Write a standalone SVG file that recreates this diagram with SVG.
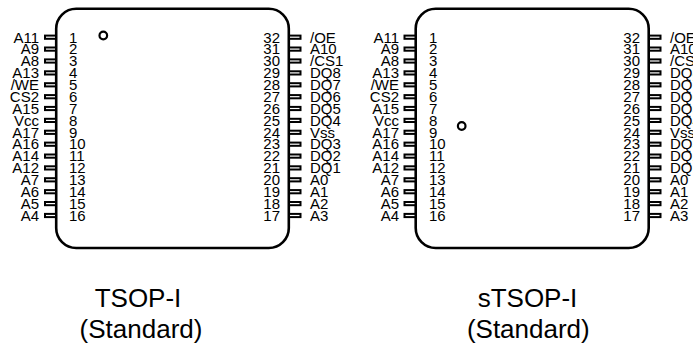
<svg xmlns="http://www.w3.org/2000/svg" width="693" height="344" viewBox="0 0 693 344">
<style>
.body{fill:#fff;stroke:#000;stroke-width:2.6}
.pin{fill:#fff;stroke:#000;stroke-width:2}
.dot{fill:none;stroke:#000;stroke-width:2.2}
text{font-family:"Liberation Sans",Arial,sans-serif;fill:#000}
.lbl{font-size:15px}
.end{text-anchor:end}
.cap{font-size:26px;text-anchor:middle}
</style>
<rect width="693" height="344" fill="#fff"/>
<g id="chip-tsop">
<rect class="body" x="56.2" y="8.7" width="232.6" height="239.3" rx="20" ry="20"/>
<circle class="dot" cx="103.3" cy="35.5" r="3.8"/>
<g id="tsop-left-pins">
<rect class="pin" x="45" y="35.6" width="11" height="3.2"/>
<rect class="pin" x="45" y="47.5" width="11" height="3.2"/>
<rect class="pin" x="45" y="59.4" width="11" height="3.2"/>
<rect class="pin" x="45" y="71.3" width="11" height="3.2"/>
<rect class="pin" x="45" y="83.2" width="11" height="3.2"/>
<rect class="pin" x="45" y="95.1" width="11" height="3.2"/>
<rect class="pin" x="45" y="106.9" width="11" height="3.2"/>
<rect class="pin" x="45" y="118.8" width="11" height="3.2"/>
<rect class="pin" x="45" y="130.7" width="11" height="3.2"/>
<rect class="pin" x="45" y="142.6" width="11" height="3.2"/>
<rect class="pin" x="45" y="154.5" width="11" height="3.2"/>
<rect class="pin" x="45" y="166.3" width="11" height="3.2"/>
<rect class="pin" x="45" y="178.2" width="11" height="3.2"/>
<rect class="pin" x="45" y="190.1" width="11" height="3.2"/>
<rect class="pin" x="45" y="202.0" width="11" height="3.2"/>
<rect class="pin" x="45" y="213.9" width="11" height="3.2"/>
</g>
<g id="tsop-right-pins">
<rect class="pin" x="289" y="35.6" width="11.5" height="3.2"/>
<rect class="pin" x="289" y="47.5" width="11.5" height="3.2"/>
<rect class="pin" x="289" y="59.4" width="11.5" height="3.2"/>
<rect class="pin" x="289" y="71.3" width="11.5" height="3.2"/>
<rect class="pin" x="289" y="83.2" width="11.5" height="3.2"/>
<rect class="pin" x="289" y="95.1" width="11.5" height="3.2"/>
<rect class="pin" x="289" y="106.9" width="11.5" height="3.2"/>
<rect class="pin" x="289" y="118.8" width="11.5" height="3.2"/>
<rect class="pin" x="289" y="130.7" width="11.5" height="3.2"/>
<rect class="pin" x="289" y="142.6" width="11.5" height="3.2"/>
<rect class="pin" x="289" y="154.5" width="11.5" height="3.2"/>
<rect class="pin" x="289" y="166.3" width="11.5" height="3.2"/>
<rect class="pin" x="289" y="178.2" width="11.5" height="3.2"/>
<rect class="pin" x="289" y="190.1" width="11.5" height="3.2"/>
<rect class="pin" x="289" y="202.0" width="11.5" height="3.2"/>
<rect class="pin" x="289" y="213.9" width="11.5" height="3.2"/>
</g>
<g class="lbl end">
<text x="39" y="42.5">A11</text>
<text x="39" y="54.4">A9</text>
<text x="39" y="66.3">A8</text>
<text x="39" y="78.1">A13</text>
<text x="39" y="90.0">/WE</text>
<text x="39" y="101.9">CS2</text>
<text x="39" y="113.8">A15</text>
<text x="39" y="125.7">Vcc</text>
<text x="39" y="137.5">A17</text>
<text x="39" y="149.4">A16</text>
<text x="39" y="161.3">A14</text>
<text x="39" y="173.2">A12</text>
<text x="39" y="185.1">A7</text>
<text x="39" y="196.9">A6</text>
<text x="39" y="208.8">A5</text>
<text x="39" y="220.7">A4</text>
</g>
<g class="lbl">
<text x="69" y="42.5">1</text>
<text x="69" y="54.4">2</text>
<text x="69" y="66.3">3</text>
<text x="69" y="78.1">4</text>
<text x="69" y="90.0">5</text>
<text x="69" y="101.9">6</text>
<text x="69" y="113.8">7</text>
<text x="69" y="125.7">8</text>
<text x="69" y="137.5">9</text>
<text x="69" y="149.4">10</text>
<text x="69" y="161.3">11</text>
<text x="69" y="173.2">12</text>
<text x="69" y="185.1">13</text>
<text x="69" y="196.9">14</text>
<text x="69" y="208.8">15</text>
<text x="69" y="220.7">16</text>
</g>
<g class="lbl end">
<text x="280" y="42.5">32</text>
<text x="280" y="54.4">31</text>
<text x="280" y="66.3">30</text>
<text x="280" y="78.1">29</text>
<text x="280" y="90.0">28</text>
<text x="280" y="101.9">27</text>
<text x="280" y="113.8">26</text>
<text x="280" y="125.7">25</text>
<text x="280" y="137.5">24</text>
<text x="280" y="149.4">23</text>
<text x="280" y="161.3">22</text>
<text x="280" y="173.2">21</text>
<text x="280" y="185.1">20</text>
<text x="280" y="196.9">19</text>
<text x="280" y="208.8">18</text>
<text x="280" y="220.7">17</text>
</g>
<g class="lbl">
<text x="310" y="42.5">/OE</text>
<text x="310" y="54.4">A10</text>
<text x="310" y="66.3">/CS1</text>
<text x="310" y="78.1">DQ8</text>
<text x="310" y="90.0">DQ7</text>
<text x="310" y="101.9">DQ6</text>
<text x="310" y="113.8">DQ5</text>
<text x="310" y="125.7">DQ4</text>
<text x="310" y="137.5">Vss</text>
<text x="310" y="149.4">DQ3</text>
<text x="310" y="161.3">DQ2</text>
<text x="310" y="173.2">DQ1</text>
<text x="310" y="185.1">A0</text>
<text x="310" y="196.9">A1</text>
<text x="310" y="208.8">A2</text>
<text x="310" y="220.7">A3</text>
</g>
<text class="cap" x="138" y="306.5">TSOP-I</text>
<text class="cap" x="141" y="338">(Standard)</text>
</g>
<g id="chip-stsop">
<rect class="body" x="415.7" y="8.7" width="233" height="239.3" rx="20" ry="20"/>
<circle class="dot" cx="461.7" cy="126" r="3.8"/>
<g id="stsop-left-pins">
<rect class="pin" x="404.5" y="35.6" width="11" height="3.2"/>
<rect class="pin" x="404.5" y="47.5" width="11" height="3.2"/>
<rect class="pin" x="404.5" y="59.4" width="11" height="3.2"/>
<rect class="pin" x="404.5" y="71.3" width="11" height="3.2"/>
<rect class="pin" x="404.5" y="83.2" width="11" height="3.2"/>
<rect class="pin" x="404.5" y="95.1" width="11" height="3.2"/>
<rect class="pin" x="404.5" y="106.9" width="11" height="3.2"/>
<rect class="pin" x="404.5" y="118.8" width="11" height="3.2"/>
<rect class="pin" x="404.5" y="130.7" width="11" height="3.2"/>
<rect class="pin" x="404.5" y="142.6" width="11" height="3.2"/>
<rect class="pin" x="404.5" y="154.5" width="11" height="3.2"/>
<rect class="pin" x="404.5" y="166.3" width="11" height="3.2"/>
<rect class="pin" x="404.5" y="178.2" width="11" height="3.2"/>
<rect class="pin" x="404.5" y="190.1" width="11" height="3.2"/>
<rect class="pin" x="404.5" y="202.0" width="11" height="3.2"/>
<rect class="pin" x="404.5" y="213.9" width="11" height="3.2"/>
</g>
<g id="stsop-right-pins">
<rect class="pin" x="649" y="35.6" width="11.5" height="3.2"/>
<rect class="pin" x="649" y="47.5" width="11.5" height="3.2"/>
<rect class="pin" x="649" y="59.4" width="11.5" height="3.2"/>
<rect class="pin" x="649" y="71.3" width="11.5" height="3.2"/>
<rect class="pin" x="649" y="83.2" width="11.5" height="3.2"/>
<rect class="pin" x="649" y="95.1" width="11.5" height="3.2"/>
<rect class="pin" x="649" y="106.9" width="11.5" height="3.2"/>
<rect class="pin" x="649" y="118.8" width="11.5" height="3.2"/>
<rect class="pin" x="649" y="130.7" width="11.5" height="3.2"/>
<rect class="pin" x="649" y="142.6" width="11.5" height="3.2"/>
<rect class="pin" x="649" y="154.5" width="11.5" height="3.2"/>
<rect class="pin" x="649" y="166.3" width="11.5" height="3.2"/>
<rect class="pin" x="649" y="178.2" width="11.5" height="3.2"/>
<rect class="pin" x="649" y="190.1" width="11.5" height="3.2"/>
<rect class="pin" x="649" y="202.0" width="11.5" height="3.2"/>
<rect class="pin" x="649" y="213.9" width="11.5" height="3.2"/>
</g>
<g class="lbl end">
<text x="399" y="42.5">A11</text>
<text x="399" y="54.4">A9</text>
<text x="399" y="66.3">A8</text>
<text x="399" y="78.1">A13</text>
<text x="399" y="90.0">/WE</text>
<text x="399" y="101.9">CS2</text>
<text x="399" y="113.8">A15</text>
<text x="399" y="125.7">Vcc</text>
<text x="399" y="137.5">A17</text>
<text x="399" y="149.4">A16</text>
<text x="399" y="161.3">A14</text>
<text x="399" y="173.2">A12</text>
<text x="399" y="185.1">A7</text>
<text x="399" y="196.9">A6</text>
<text x="399" y="208.8">A5</text>
<text x="399" y="220.7">A4</text>
</g>
<g class="lbl">
<text x="429" y="42.5">1</text>
<text x="429" y="54.4">2</text>
<text x="429" y="66.3">3</text>
<text x="429" y="78.1">4</text>
<text x="429" y="90.0">5</text>
<text x="429" y="101.9">6</text>
<text x="429" y="113.8">7</text>
<text x="429" y="125.7">8</text>
<text x="429" y="137.5">9</text>
<text x="429" y="149.4">10</text>
<text x="429" y="161.3">11</text>
<text x="429" y="173.2">12</text>
<text x="429" y="185.1">13</text>
<text x="429" y="196.9">14</text>
<text x="429" y="208.8">15</text>
<text x="429" y="220.7">16</text>
</g>
<g class="lbl end">
<text x="640" y="42.5">32</text>
<text x="640" y="54.4">31</text>
<text x="640" y="66.3">30</text>
<text x="640" y="78.1">29</text>
<text x="640" y="90.0">28</text>
<text x="640" y="101.9">27</text>
<text x="640" y="113.8">26</text>
<text x="640" y="125.7">25</text>
<text x="640" y="137.5">24</text>
<text x="640" y="149.4">23</text>
<text x="640" y="161.3">22</text>
<text x="640" y="173.2">21</text>
<text x="640" y="185.1">20</text>
<text x="640" y="196.9">19</text>
<text x="640" y="208.8">18</text>
<text x="640" y="220.7">17</text>
</g>
<g class="lbl">
<text x="670" y="42.5">/OE</text>
<text x="670" y="54.4">A10</text>
<text x="670" y="66.3">/CS1</text>
<text x="670" y="78.1">DQ8</text>
<text x="670" y="90.0">DQ7</text>
<text x="670" y="101.9">DQ6</text>
<text x="670" y="113.8">DQ5</text>
<text x="670" y="125.7">DQ4</text>
<text x="670" y="137.5">Vss</text>
<text x="670" y="149.4">DQ3</text>
<text x="670" y="161.3">DQ2</text>
<text x="670" y="173.2">DQ1</text>
<text x="670" y="185.1">A0</text>
<text x="670" y="196.9">A1</text>
<text x="670" y="208.8">A2</text>
<text x="670" y="220.7">A3</text>
</g>
<text class="cap" x="527.5" y="306.5">sTSOP-I</text>
<text class="cap" x="528.3" y="338">(Standard)</text>
</g>
<g id="connectors"/>
</svg>
